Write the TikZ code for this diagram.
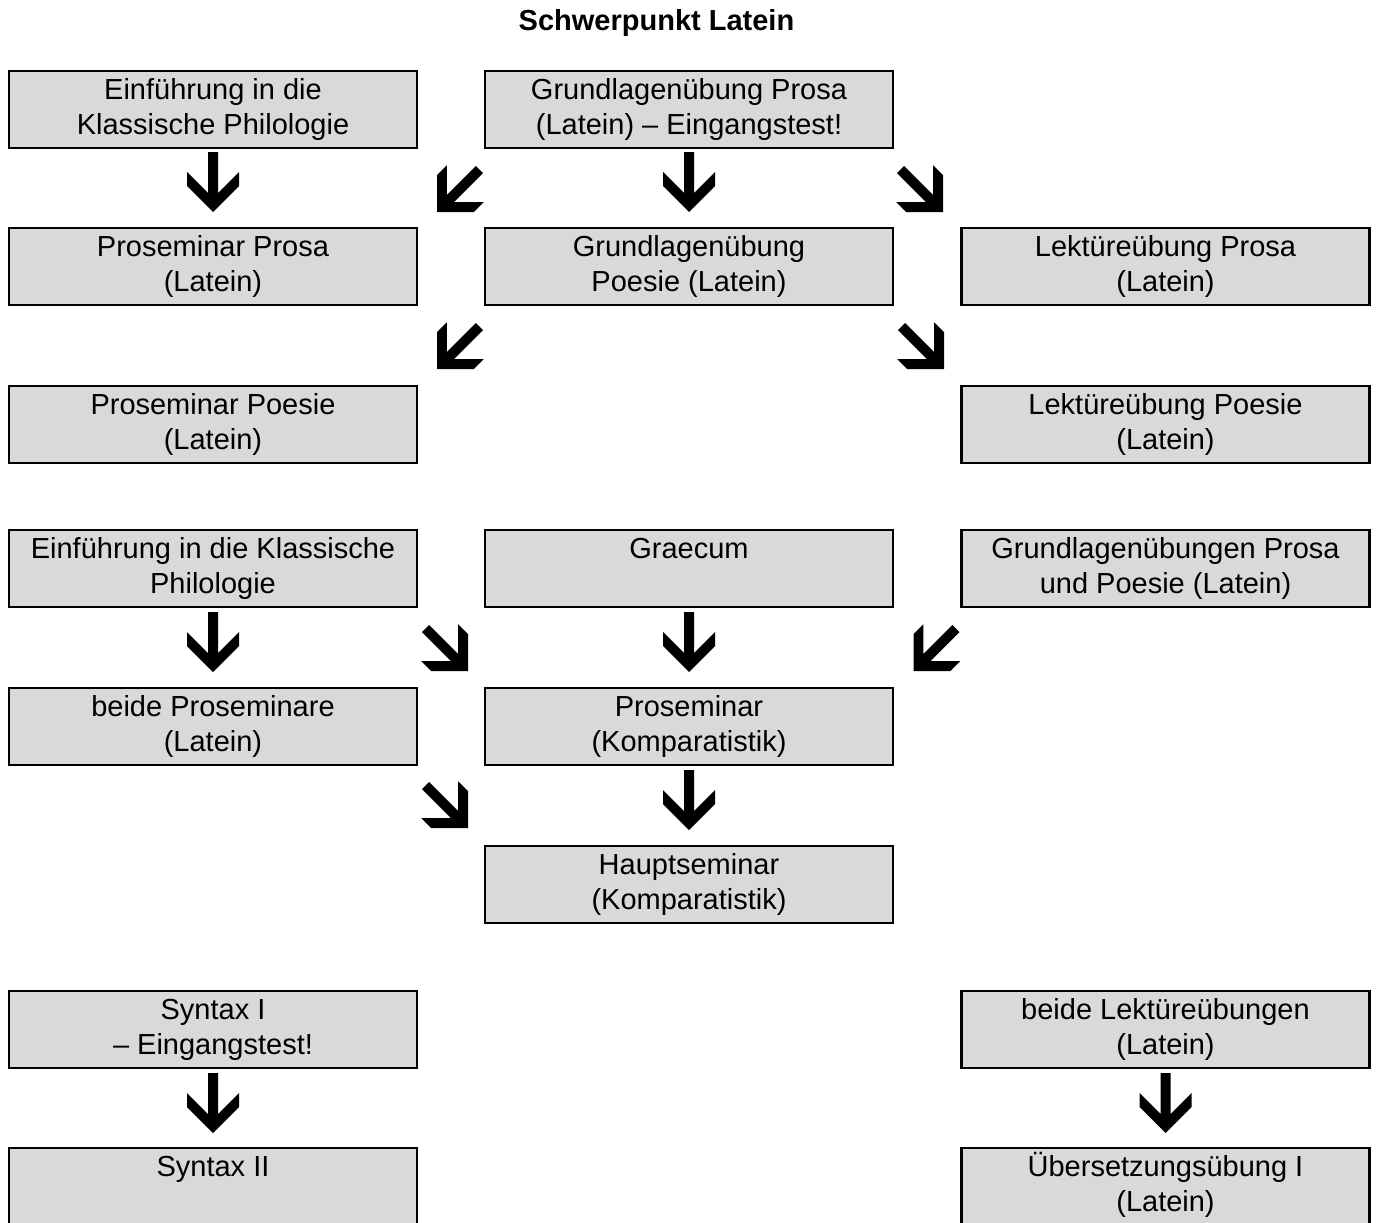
\documentclass[tikz,border=0pt]{standalone}
\usepackage{fontspec}
\setmainfont{Liberation Sans}
\usepackage{tikz}
\usetikzlibrary{calc}

\definecolor{kastengrau}{gray}{0.85}
\newcommand{\ktext}[1]{\parbox[c][77pt][t]{400pt}{\centering\rule{0pt}{28.5pt}#1}}

\tikzset{
  kasten/.style={draw, line width=2.5pt, fill=kastengrau, inner sep=0pt,
    outer sep=0pt, anchor=north, minimum width=408pt, minimum height=77pt},
  pfeil/.pic={
    \fill (0,0) -- (-26,26) -- (-26,40) -- (-5,19) -- (-5,60) -- (5,60)
      -- (5,19) -- (26,40) -- (26,26) -- cycle;
  }
}

\begin{document}
\begin{tikzpicture}[x=1pt, y=1pt, font=\fontsize{29}{34.5}\selectfont]
            \clip (0,0) rectangle (1379,-1223);

            \node[font=\fontsize{29}{34.5}\selectfont\bfseries, anchor=base] (titel) at (656.5,-31) {Schwerpunkt Latein};

            % erste Gruppe
            \node[kasten] (einf) at (213,-71) {\ktext{Einführung in die\\Klassische Philologie}};
            \node[kasten] (grprosa) at (689,-71) {\ktext{Grundlagenübung Prosa\\(Latein) – Eingangstest!}};
            \node[kasten] (psprosa) at (213,-228) {\ktext{Proseminar Prosa\\(Latein)}};
            \node[kasten] (grpoesie) at (689,-228) {\ktext{Grundlagenübung\\Poesie (Latein)}};
            \node[kasten] (lkprosa) at (1165.5,-228) {\ktext{Lektüreübung Prosa\\(Latein)}};
            \node[kasten] (pspoesie) at (213,-386) {\ktext{Proseminar Poesie\\(Latein)}};
            \node[kasten] (lkpoesie) at (1165.5,-386) {\ktext{Lektüreübung Poesie\\(Latein)}};

            \pic at ($(einf.south)+(0,-64)$) {pfeil};
            \pic[rotate=-45] at ($(grprosa.south west)+(-48,-64)$) {pfeil};
            \pic at ($(grprosa.south)+(0,-64)$) {pfeil};
            \pic[rotate=45] at ($(grprosa.south east)+(50,-64)$) {pfeil};
            \pic[rotate=-45] at ($(grpoesie.south west)+(-48,-64)$) {pfeil};
            \pic[rotate=45] at ($(grpoesie.south east)+(51,-64)$) {pfeil};

            % zweite Gruppe
            \node[kasten] (einf2) at (213,-530) {\ktext{Einführung in die Klassische\\Philologie}};
            \node[kasten] (graecum) at (689,-530) {\ktext{Graecum}};
            \node[kasten] (grbeide) at (1165.5,-530) {\ktext{Grundlagenübungen Prosa\\und Poesie (Latein)}};
            \node[kasten] (psbeide) at (213,-688) {\ktext{beide Proseminare\\(Latein)}};
            \node[kasten] (pskomp) at (689,-688) {\ktext{Proseminar\\(Komparatistik)}};
            \node[kasten] (hskomp) at (689,-846) {\ktext{Hauptseminar\\(Komparatistik)}};

            \pic at ($(einf2.south)+(0,-65)$) {pfeil};
            \pic[rotate=45] at ($(einf2.south east)+(51,-64)$) {pfeil};
            \pic at ($(graecum.south)+(0,-65)$) {pfeil};
            \pic[rotate=-45] at ($(grbeide.south west)+(-48,-64)$) {pfeil};
            \pic[rotate=45] at ($(psbeide.south east)+(51,-63)$) {pfeil};
            \pic at ($(pskomp.south)+(0,-65)$) {pfeil};

            % dritte Gruppe
            \node[kasten] (syn1) at (213,-991) {\ktext{Syntax I\\– Eingangstest!}};
            \node[kasten] (lkbeide) at (1165.5,-991) {\ktext{beide Lektüreübungen\\(Latein)}};
            \node[kasten] (syn2) at (213,-1148) {\ktext{Syntax II}};
            \node[kasten] (ueb1) at (1165.5,-1148) {\ktext{Übersetzungsübung I\\(Latein)}};

            \pic at ($(syn1.south)+(0,-65)$) {pfeil};
            \pic at ($(lkbeide.south)+(0,-65)$) {pfeil};
        \end{tikzpicture}
\end{document}
